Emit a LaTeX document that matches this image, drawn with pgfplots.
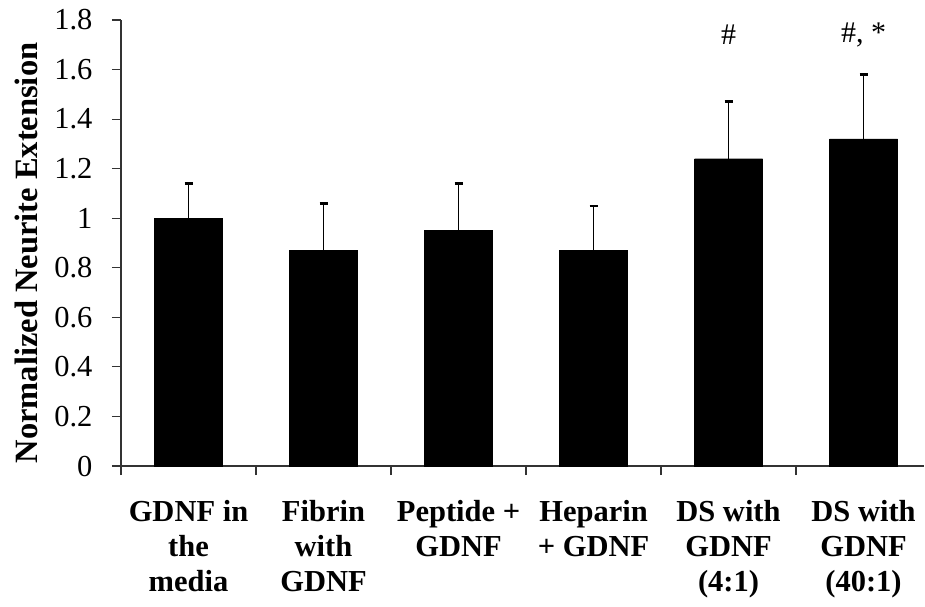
\documentclass[border=0pt]{standalone}
\usepackage{pgfplots}
\pgfplotsset{compat=1.18}
\usepackage{fontspec}
\setmainfont{Liberation Serif}

\begin{document}
\begin{tikzpicture}
\begin{axis}[
  x=135pt, y=247.8pt,
  xmin=-0.5, xmax=5.45, ymin=0, ymax=1.8,
  axis x line=bottom, axis y line=left,
  axis line style={-, line width=1.1pt, black!80},
  tick align=outside,
  major tick length=9pt,
  tick style={line width=1.1pt, black!80},
  ytick={0,0.2,0.4,0.6,0.8,1,1.2,1.4,1.6,1.8},
  yticklabels={0,0.2,0.4,0.6,0.8,1,1.2,1.4,1.6,1.8},
  yticklabel style={font=\fontsize{30.5}{36}\selectfont, xshift=-16pt},
  % separators between the groups
  xtick={-0.5,0.5,1.5,2.5,3.5,4.5},
  xticklabels={},
  % group names under the bars
  extra x ticks={0,1,2,3,4,5},
  extra x tick labels={{GDNF in\\the\\media},{Fibrin\\with\\GDNF},{Peptide +\\GDNF},{Heparin\\+ GDNF},{DS with\\GDNF\\(4:1)},{DS with\\GDNF\\(40:1)}},
  extra x tick style={major tick length=0pt},
  xticklabel style={font=\fontsize{30.5}{35}\selectfont\bfseries, align=center, anchor=north, yshift=-31pt},
  ylabel={Normalized Neurite Extension},
  ylabel style={font=\fontsize{32.5}{36}\selectfont\bfseries, anchor=center,
    at={([xshift=-95pt,yshift=-10pt]axis description cs:0,0.5)}},
  clip=false,
]
\coordinate (O) at (axis cs:-0.5,0);
\addplot[ybar, bar width=68pt, fill=black, draw=black,
  error bars/.cd, y dir=plus, y explicit, error mark=-,
  error bar style={line width=1.6pt, black},
  error mark options={rotate=90, mark size=4pt, line width=2.5pt, black}]
  coordinates {
    (0,1.00) +- (0,0.14)
    (1,0.87) +- (0,0.19)
    (2,0.95) +- (0,0.19)
    (3,0.87) +- (0,0.18)
    (4,1.24) +- (0,0.23)
    (5,1.32) +- (0,0.26)
  };
\node[font=\fontsize{30}{34}\selectfont] at (axis cs:4,1.74) {\#};
\node[font=\fontsize{30}{34}\selectfont] at (axis cs:5,1.74) {\#, *};
\end{axis}
\pgfresetboundingbox
\path[use as bounding box] ([xshift=-121pt,yshift=-140pt]O) rectangle ([xshift=804pt,yshift=466pt]O);
\end{tikzpicture}
\end{document}
